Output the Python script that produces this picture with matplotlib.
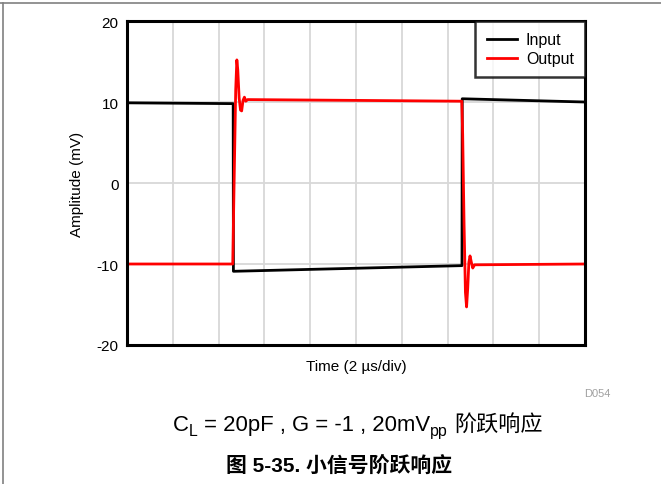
import matplotlib.pyplot as plt
from matplotlib.lines import Line2D

plt.rcParams['font.family'] = ['Liberation Sans', 'Noto Sans CJK SC', 'DejaVu Sans']

# input step (mV) vs time (us)
t_in = [0, 4.64, 4.65, 14.63, 14.64, 20]
v_in = [9.9, 9.8, -10.9, -10.2, 10.4, 10.0]

t_out = [0, 4.62, 4.68, 4.75, 4.80, 4.84, 4.90, 4.96, 5.01, 5.07, 5.13, 5.19, 5.27,
         10, 14.62, 14.66, 14.72, 14.78, 14.83, 14.88, 14.93, 14.98, 15.04, 15.10, 15.18, 20]
v_out = [-10.0, -10.0, 0.0, 11.5, 15.2, 14.0, 10.5, 9.0, 8.9, 10.2, 10.6, 10.1, 10.3,
         10.2, 10.1, 6.0, -5.0, -13.5, -15.3, -13.0, -9.8, -9.0, -9.8, -10.5, -10.1, -10.0]

y_ticks = [-20, -10, 0, 10, 20]

fig = plt.figure(figsize=(6.61, 4.85), dpi=100)
ax = fig.add_axes([0.192, 0.2866, 0.693, 0.668])

ax.plot(t_in, v_in, color='black', lw=2)
ax.plot(t_out, v_out, color='red', lw=2)

ax.set_xlim(0, 20)
ax.set_ylim(-20, 20)
ax.set_xticks(range(0, 21, 2))
ax.set_xticklabels([])
ax.set_yticks(y_ticks)
ax.set_yticklabels([str(v) for v in y_ticks], fontsize=11)
ax.tick_params(length=0, pad=6)
ax.grid(True, color='#d8d8d8', lw=1.3)
ax.set_axisbelow(True)
for s in ax.spines.values():
    s.set_linewidth(2.2)

ax.set_xlabel('Time (2 µs/div)', fontsize=11, labelpad=4)
ax.set_ylabel('Amplitude (mV)', fontsize=11, labelpad=9)

handles = [Line2D([], [], color='black', lw=2), Line2D([], [], color='red', lw=2)]
leg = ax.legend(handles, ['Input', 'Output'], loc='upper right', fontsize=11.5,
                fancybox=False, borderaxespad=0, handlelength=1.9,
                labelspacing=0.25, borderpad=0.7, handletextpad=0.55)
leg.get_frame().set_edgecolor('black')
leg.get_frame().set_linewidth(1.8)

fig.text(0.903, 0.188, 'D054', color='#a0a0a0', fontsize=8, ha='center', va='center')

# caption row with subscripts, laid out piece by piece so CJK falls back properly
renderer = fig.canvas.get_renderer()
fs = 15.9
parts = [('C', 0, 0), ('L', 1, 0), ('= 20pF , G = -1 , 20mV', 0, 1), ('pp', 1, 0), ('阶跃响应', 0, 1)]
texts, widths, gaps = [], [], []
for s, sub, gap in parts:
    size = fs * 0.72 if sub else fs
    t = fig.text(0, 0, s, fontsize=size, va='baseline')
    texts.append((t, sub))
    widths.append(t.get_window_extent(renderer).width)
    gaps.append(gap * 0.3 * fs * 100 / 72)
total = sum(widths) + sum(gaps)
x = 0.541 * fig.bbox.width - total / 2
y = 0.112 * fig.bbox.height
for (t, sub), w, g in zip(texts, widths, gaps):
    x += g
    dy = -0.25 * fs * 100 / 72 if sub else 0
    t.set_position((x / fig.bbox.width, (y + dy) / fig.bbox.height))
    x += w

fig.text(0.513, 0.04, '图 5-35. 小信号阶跃响应', fontsize=15, fontweight='bold',
         ha='center', va='center')

# page frame lines
fig.add_artist(Line2D([0, 1], [0.991, 0.991], color='#808080', lw=1.2, transform=fig.transFigure))
fig.add_artist(Line2D([0.005, 0.005], [0, 0.991], color='#808080', lw=1.2, transform=fig.transFigure))

fig.savefig('out.png', dpi=100)
